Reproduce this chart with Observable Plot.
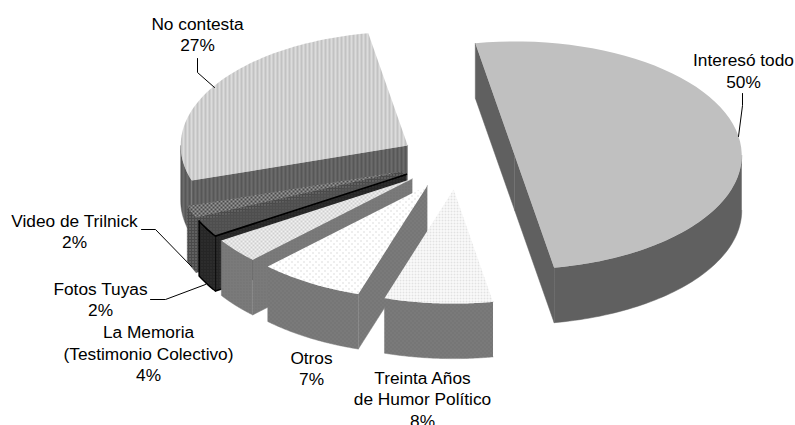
<!DOCTYPE html>
<html><head><meta charset="utf-8">
<style>html,body{margin:0;padding:0;background:#fff}svg{display:block}</style>
<script src="https://cdn.jsdelivr.net/npm/d3@7"></script>
<script src="https://cdn.jsdelivr.net/npm/@observablehq/plot@0.6"></script>
</head><body>
<svg width="0" height="0" style="position:absolute">
<defs>
<pattern id="noTop" width="4" height="4" patternUnits="userSpaceOnUse"><rect width="4" height="4" fill="#dcdcdc"/><rect width="2" height="4" fill="#c2c2c2"/></pattern>
<pattern id="noWall" width="4" height="4" patternUnits="userSpaceOnUse"><rect width="4" height="4" fill="#6c6c6c"/><rect width="2" height="4" fill="#575757"/></pattern>
<pattern id="vidTop" width="4" height="4" patternUnits="userSpaceOnUse"><rect width="4" height="4" fill="#4a4a4a"/><rect width="2" height="2" fill="#9a9a9a"/><rect x="2" y="2" width="2" height="2" fill="#9a9a9a"/></pattern>
<pattern id="vidWall" width="3" height="3" patternUnits="userSpaceOnUse"><rect width="3" height="3" fill="#4a4a4a"/><rect width="1" height="1" fill="#a0a0a0"/></pattern>
<pattern id="fotTop" width="3" height="3" patternUnits="userSpaceOnUse"><rect width="3" height="3" fill="#4e4e4e"/><rect width="1" height="1" fill="#6a6a6a"/></pattern>
<pattern id="fotWall" width="3" height="3" patternUnits="userSpaceOnUse"><rect width="3" height="3" fill="#262626"/><rect width="1" height="1" fill="#404040"/></pattern>
<pattern id="memTop" width="4" height="4" patternUnits="userSpaceOnUse"><rect width="4" height="4" fill="#f2f2f2"/><rect width="2" height="2" fill="#cfcfcf"/><rect x="2" y="2" width="2" height="2" fill="#cfcfcf"/></pattern>
<pattern id="memWall" width="3" height="3" patternUnits="userSpaceOnUse"><rect width="3" height="3" fill="#7a7a7a"/><rect width="1" height="1" fill="#6c6c6c"/></pattern>
<pattern id="otrTop" width="6" height="6" patternUnits="userSpaceOnUse"><rect width="6" height="6" fill="#fff"/><rect width="1" height="1" fill="#bbb"/><rect x="3" y="3" width="1" height="1" fill="#bbb"/></pattern>
<pattern id="treTop" width="3" height="3" patternUnits="userSpaceOnUse"><rect width="3" height="3" fill="#fff"/><rect width="2" height="2" fill="#e2e2e2"/></pattern>
<pattern id="dotWall" width="4" height="4" patternUnits="userSpaceOnUse"><rect width="4" height="4" fill="#7a7a7a"/><rect width="1" height="1" fill="#6a6a6a"/><rect x="2" y="2" width="1" height="1" fill="#6a6a6a"/></pattern>
</defs>
</svg>
<script>
// Data
const categories = ["Interesó todo","Treinta Años\nde Humor Político","Otros","La Memoria\n(Testimonio Colectivo)","Fotos Tuyas","Video de Trilnick","No contesta"];
const shares = [50, 7.7, 7.49, 3.5, 2.4, 1.7, 27.21];
const topFills  = ["#c0c0c0","url(#treTop)","url(#otrTop)","url(#memTop)","url(#fotTop)","url(#vidTop)","url(#noTop)"];
const wallFills = ["#606060","url(#dotWall)","url(#dotWall)","url(#memWall)","url(#fotWall)","url(#vidWall)","url(#noWall)"];
const outlines  = ["none","none","none","none","#000","none","none"];
// Label anchors
const labelX = [743,422,311,148,100,74,197];
const labelY = [69.5,398,367,352.5,298,230,33];
// Leader lines
const leaderSlice = ["Interesó todo","Interesó todo","Interesó todo","Fotos Tuyas","Fotos Tuyas","Fotos Tuyas","Video de Trilnick","Video de Trilnick","Video de Trilnick","No contesta","No contesta","No contesta"];
const leaderX = [742,742,738, 150,165,205, 141,155,191, 197,197,214];
const leaderY = [93,105,136, 299,299,284, 229,229,266, 58,72,87];

// Pie geometry (flattened ellipse, extruded, exploded)
const RX = 227, RY = 114, DEPTH = 55, EXPLODE = 0.256, CX = 457, CY = 160;
const rad = d => d * Math.PI / 180;
const arcs = d3.pie().sort(null).startAngle(rad(-10)).endAngle(rad(350))(shares);

function sliceParts(arc, i) {
  const m = (arc.startAngle + arc.endAngle) / 2;
  const cx = CX + EXPLODE * RX * Math.sin(m), cy = CY - EXPLODE * RY * Math.cos(m);
  const P = (t, dz = 0) => ({x: cx + RX * Math.sin(t), y: cy - RY * Math.cos(t) + dz});
  const C = (dz = 0) => ({x: cx, y: cy + dz});
  const sweep = (a, b, dz = 0) => d3.range(0, 61).map(k => P(a + (b - a) * k / 60, dz));
  const parts = [];
  const outlined = outlines[i] !== "none";
  const wall = pts => parts.push({pts, fill: wallFills[i], stroke: outlined ? outlines[i] : wallFills[i], sw: outlined ? 1.5 : 0.5});
  // radial faces, only those turned toward the viewer
  if (Math.cos(arc.endAngle + Math.PI / 2) < 0)
    wall([P(arc.endAngle), C(), C(DEPTH), P(arc.endAngle, DEPTH)]);
  if (Math.cos(arc.startAngle - Math.PI / 2) < 0)
    wall([C(), P(arc.startAngle), P(arc.startAngle, DEPTH), C(DEPTH)]);
  // curved face, front half only
  const a = Math.max(arc.startAngle, rad(90)), b = Math.min(arc.endAngle, rad(270));
  if (a < b) wall([...sweep(a, b), ...sweep(b, a, DEPTH)]);
  parts.push({pts: [C(), ...sweep(arc.startAngle, arc.endAngle)], fill: topFills[i], stroke: outlines[i], sw: outlined ? 1.5 : 0});
  return parts;
}

const drawOrder = [6,5,4,3,2,1,0];
const polygons = drawOrder.flatMap(i => sliceParts(arcs[i], i));

const labels = categories.map((c, i) => ({text: `${c}\n${Math.round(shares[i])}%`, x: labelX[i], y: labelY[i]}));
const leaders = leaderSlice.map((s, i) => ({s, x: leaderX[i], y: leaderY[i]}));

const chart = Plot.plot({
  width: 795, height: 425, margin: 0,
  style: {background: "#fff", overflow: "hidden"},
  x: {type: "linear", domain: [0, 795], range: [0, 795], axis: null},
  y: {type: "linear", domain: [0, 425], range: [0, 425], axis: null},
  marks: [
    ...polygons.map(p => Plot.line(p.pts, {x: "x", y: "y", fill: p.fill, stroke: p.stroke, strokeWidth: p.sw, strokeLinejoin: "miter"})),
    Plot.line(leaders, {x: "x", y: "y", z: "s", stroke: "#000", strokeWidth: 1}),
    Plot.text(labels, {x: "x", y: "y", text: "text", fontFamily: "Liberation Sans", fontSize: 17.3, lineHeight: 1.245, fill: "#000", textAnchor: "middle"})
  ]
});
document.body.appendChild(chart);
</script>
</body></html>
